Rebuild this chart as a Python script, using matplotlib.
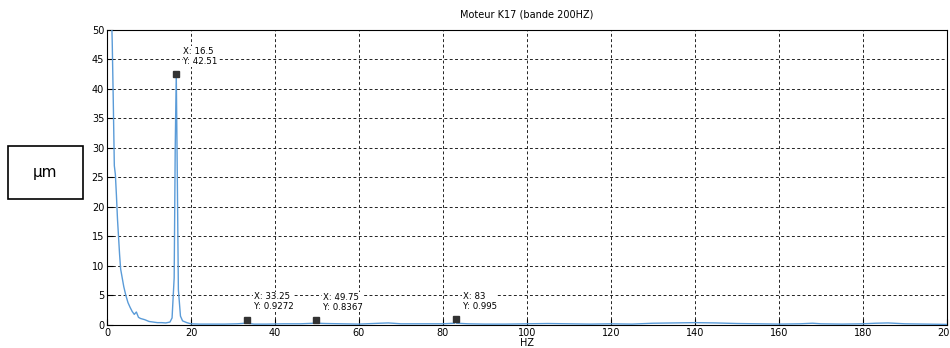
import matplotlib.pyplot as plt
from matplotlib.patches import Rectangle

# spectre (Hz, amplitude en µm)
freq = [0, 0.25, 0.5, 0.75, 1.0, 1.25, 1.5, 1.75, 2.0, 2.25, 2.5, 3.0, 3.25, 3.5,
        4.0, 4.5, 5.0, 5.5, 6.0, 6.5, 7.0, 7.5, 8.0, 9.0, 10, 11, 12, 13, 14, 15,
        15.5, 16, 16.25, 16.5, 16.75, 17, 17.5, 18, 19, 20, 22, 25, 28, 31, 33,
        33.25, 33.5, 35, 38, 42, 46, 49.5, 49.75, 50, 52, 56, 60, 65, 67, 70, 75,
        80, 82.75, 83, 83.25, 86, 90, 95, 100, 105, 110, 115, 120, 125, 130, 135,
        140, 145, 150, 155, 160, 165, 168, 170, 175, 180, 183, 186, 190, 195, 200]
ampl = [62, 80, 70, 60, 55, 48, 38, 27, 25.5, 22, 18, 12, 9.5, 8.5,
        6.5, 5.0, 3.8, 3.0, 2.3, 1.8, 2.2, 1.3, 1.1, 0.9, 0.6, 0.5, 0.4, 0.4, 0.35, 0.5,
        1.2, 8, 30, 42.51, 25, 6, 1.5, 0.7, 0.4, 0.2, 0.15, 0.15, 0.15, 0.2, 0.3,
        0.93, 0.3, 0.15, 0.15, 0.2, 0.2, 0.3, 0.84, 0.3, 0.25, 0.2, 0.15, 0.3, 0.35, 0.2, 0.2,
        0.2, 0.3, 0.995, 0.3, 0.2, 0.15, 0.15, 0.2, 0.25, 0.2, 0.15, 0.2, 0.15, 0.3, 0.35,
        0.4, 0.35, 0.25, 0.2, 0.15, 0.2, 0.3, 0.2, 0.15, 0.2, 0.3, 0.35, 0.2, 0.15, 0.1]

tip_x = [16.5, 33.25, 49.75, 83]
tip_y = [42.51, 0.9272, 0.8367, 0.995]
tip_txt = ['X: 16.5\nY: 42.51', 'X: 33.25\nY: 0.9272', 'X: 49.75\nY: 0.8367', 'X: 83\nY: 0.995']

fig = plt.figure(figsize=(9.5, 3.48), dpi=100)
ax = fig.add_axes([0.1126, 0.0661, 0.8842, 0.8477])

ax.plot(freq, ampl, color='#5a9bd8', lw=1.0, zorder=3)
ax.plot(tip_x, tip_y, 's', color='#333333', ms=4.5, zorder=5)
for x, y, t in zip(tip_x, tip_y, tip_txt):
    ax.annotate(t, (x, y), xytext=(5, 6), textcoords='offset points',
                ha='left', va='bottom', fontsize=6.2, linespacing=1.1,
                bbox=dict(fc='white', ec='none', pad=0.5), zorder=4)

ax.set_xlim(0, 200)
ax.set_ylim(0, 50)
ax.set_xticks(range(0, 201, 20))
ax.set_yticks(range(0, 51, 5))
ax.tick_params(direction='in', labelsize=7, length=4, pad=2)
ax.grid(True, color='#222222', linestyle=(0, (3, 2.5)), lw=0.7)
ax.set_axisbelow(True)
for s in ax.spines.values():
    s.set_linewidth(0.8)

ax.set_title('Moteur K17 (bande 200HZ)', fontsize=7, pad=9)
ax.set_xlabel('HZ', fontsize=7, labelpad=0)

# boîte de l'unité
fig.patches.append(Rectangle((8 / 950, 1 - 199 / 348), 75 / 950, 53 / 348,
                             transform=fig.transFigure, fill=False,
                             ec='black', lw=1.2))
fig.text(45.5 / 950, 1 - 172.5 / 348, 'µm', fontsize=11, ha='center', va='center')

fig.savefig('out.png', dpi=100)
